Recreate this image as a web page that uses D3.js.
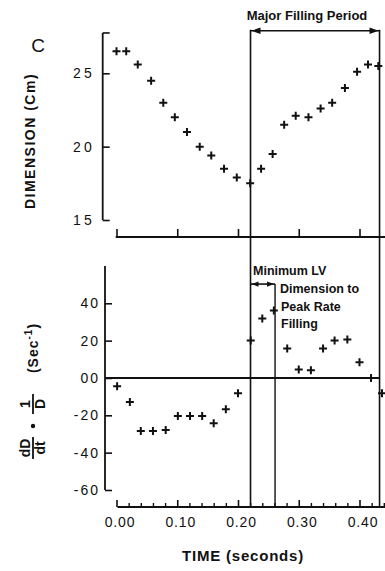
<!DOCTYPE html>
<html><head><meta charset="utf-8">
<script src="https://cdn.jsdelivr.net/npm/d3@7"></script>
<style>
body{margin:0;background:#fff;}
svg{display:block;font-family:"Liberation Sans",Arial,sans-serif;}
</style></head><body>
<svg id="c" width="385" height="571"></svg>
<script>
// ---- data ----
const topTime = [0.000,0.016,0.035,0.057,0.077,0.096,0.116,0.137,0.156,0.177,0.198,0.220,0.238,0.257,0.276,0.295,0.316,0.336,0.355,0.376,0.396,0.414,0.431];
const topDim  = [26.5,26.5,25.6,24.5,23.0,22.0,21.0,20.0,19.4,18.5,17.9,17.5,18.5,19.5,21.5,22.1,22.0,22.6,23.0,24.0,25.1,25.6,25.5];
const botTime = [0.001,0.022,0.040,0.060,0.081,0.101,0.121,0.141,0.160,0.180,0.200,0.221,0.240,0.259,0.281,0.300,0.320,0.340,0.359,0.380,0.400,0.419,0.437];
const botRate = [-4.4,-12.8,-28.4,-28.4,-27.9,-20.4,-20.4,-20.4,-24.2,-16.7,-8.2,20.1,31.8,36.1,15.8,4.6,4.1,15.8,20.1,20.6,8.4,0,-8.2];
const topYTicks = [15,20,25];
const topYLabels = ["15","20","25"];
const botYTicks = [-60,-40,-20,0,20,40];
const botYLabels = ["-60","-40","-20","00","20","40"];
const xMajorTicks = [0,0.1,0.2,0.3,0.4];
const xTickLabels = ["0.00","0.10","0.20","0.30","0.40"];
const xMinorTicks = [0.02,0.04,0.06,0.08,0.12,0.14,0.16,0.18,0.22,0.24,0.26,0.28,0.32,0.34,0.36,0.38,0.42,0.44];
const eventTimes = [0.2206, 0.261, 0.433]; // min dimension, peak filling rate, end of major filling
const arrowLevels = [27.9, 50.3];          // top-panel arrow (cm), bottom-panel arrow (sec^-1)

// ---- scales ----
const svg = d3.select("#c");
const x = d3.scaleLinear().domain([0, 0.4]).range([116.5, 359.5]);
const yTop = d3.scaleLinear().domain([15, 25]).range([220, 73.3]);
const yBot = d3.scaleLinear().domain([-60, 40]).range([490, 303.3]);

const topAxisY = 237, botAxisY = 507;
const topYAxisX = 102.7, botYAxisX = 105;

const ink = "#111";

// ---- top panel y axis ----
const gTY = svg.append("g").attr("transform", `translate(${topYAxisX},0)`)
  .call(d3.axisLeft(yTop).tickValues(topYTicks)
        .tickFormat((d,i)=>topYLabels[i]).tickSize(-7).tickSizeOuter(0).tickPadding(8));
gTY.select(".domain").remove();
gTY.selectAll(".tick line").attr("stroke", ink).attr("stroke-width", 1.6);
gTY.selectAll(".tick text").attr("fill", ink).style("font-size","14px").style("letter-spacing","3px");
svg.append("line").attr("x1",topYAxisX).attr("x2",topYAxisX)
  .attr("y1",yTop(27.75)).attr("y2",yTop(15)).attr("stroke",ink).attr("stroke-width",1.8);
svg.append("line").attr("x1",topYAxisX).attr("x2",topYAxisX+7)
  .attr("y1",yTop(27.75)).attr("y2",yTop(27.75)).attr("stroke",ink).attr("stroke-width",1.6);

// ---- top panel x axis (ticks only) ----
const gTX = svg.append("g").attr("transform", `translate(0,${topAxisY})`)
  .call(d3.axisBottom(x).tickValues(xMajorTicks).tickFormat("").tickSize(-8).tickSizeOuter(0));
gTX.select(".domain").remove();
gTX.selectAll(".tick line").attr("stroke", ink).attr("stroke-width", 1.6);
svg.append("line").attr("x1",x(0)-0.8).attr("x2",385).attr("y1",topAxisY).attr("y2",topAxisY)
  .attr("stroke",ink).attr("stroke-width",1.8);

// ---- bottom panel y axis ----
const gBY = svg.append("g").attr("transform", `translate(${botYAxisX},0)`)
  .call(d3.axisLeft(yBot).tickValues(botYTicks)
        .tickFormat((d,i)=>botYLabels[i]).tickSize(-7).tickSizeOuter(0).tickPadding(5));
gBY.select(".domain").remove();
gBY.selectAll(".tick line").attr("stroke", ink).attr("stroke-width", 1.6);
gBY.selectAll(".tick text").attr("fill", ink).style("font-size","14px").style("letter-spacing","2px");
svg.append("line").attr("x1",botYAxisX).attr("x2",botYAxisX)
  .attr("y1",yBot(60)).attr("y2",yBot(-60)).attr("stroke",ink).attr("stroke-width",1.8);
// zero line
svg.append("line").attr("x1",botYAxisX).attr("x2",x(0.433)).attr("y1",yBot(0)).attr("y2",yBot(0))
  .attr("stroke",ink).attr("stroke-width",2);

// ---- bottom panel x axis ----
const gBXm = svg.append("g").attr("transform", `translate(0,${botAxisY})`)
  .call(d3.axisBottom(x).tickValues(xMinorTicks).tickFormat("").tickSize(-4).tickSizeOuter(0));
gBXm.select(".domain").remove();
gBXm.selectAll(".tick line").attr("stroke", ink).attr("stroke-width", 1.4);
const gBX = svg.append("g").attr("transform", `translate(0,${botAxisY})`)
  .call(d3.axisBottom(x).tickValues(xMajorTicks).tickFormat((d,i)=>xTickLabels[i])
        .tickSize(-7).tickSizeOuter(0).tickPadding(10));
gBX.select(".domain").remove();
gBX.selectAll(".tick line").attr("stroke", ink).attr("stroke-width", 1.6);
gBX.selectAll(".tick text").attr("fill", ink).attr("dx", 3)
  .style("font-size","14px").style("letter-spacing","0.8px");
svg.append("line").attr("x1",x(0)+1).attr("x2",385).attr("y1",botAxisY).attr("y2",botAxisY)
  .attr("stroke",ink).attr("stroke-width",1.8);

// ---- event vertical lines ----
const yArrowTop = yTop(arrowLevels[0]);
const yArrowBot = yBot(arrowLevels[1]);
svg.append("line").attr("x1",x(eventTimes[0])).attr("x2",x(eventTimes[0]))
  .attr("y1",yArrowTop-1).attr("y2",botAxisY).attr("stroke",ink).attr("stroke-width",1.6);
svg.append("line").attr("x1",x(eventTimes[2])).attr("x2",x(eventTimes[2]))
  .attr("y1",yArrowTop-1).attr("y2",botAxisY).attr("stroke",ink).attr("stroke-width",1.6);
svg.append("line").attr("x1",x(eventTimes[1])).attr("x2",x(eventTimes[1]))
  .attr("y1",yArrowBot).attr("y2",botAxisY).attr("stroke",ink).attr("stroke-width",1.4);

// double-headed arrows
function dblArrow(x1, x2, y, head, half) {
  svg.append("line").attr("x1",x1).attr("x2",x2).attr("y1",y).attr("y2",y)
    .attr("stroke",ink).attr("stroke-width",1.6);
  svg.append("path").attr("d",`M${x1+1},${y}L${x1+1+head},${y-half}L${x1+1+head},${y+half}Z`).attr("fill",ink);
  svg.append("path").attr("d",`M${x2-1},${y}L${x2-1-head},${y-half}L${x2-1-head},${y+half}Z`).attr("fill",ink);
}
dblArrow(x(eventTimes[0]), x(eventTimes[2]), yArrowTop, 9, 3.2);
dblArrow(x(eventTimes[0]), x(eventTimes[1]), yArrowBot, 7, 2.6);

// ---- data markers ----
const plus = "M-4,0H4M0,-4V4";
svg.append("g").selectAll("path").data(topTime).join("path")
  .attr("d", plus).attr("transform",(d,i)=>`translate(${x(d)},${yTop(topDim[i])})`)
  .attr("stroke",ink).attr("stroke-width",2).attr("fill","none");
svg.append("g").selectAll("path").data(botTime).join("path")
  .attr("d", plus).attr("transform",(d,i)=>`translate(${x(d)},${yBot(botRate[i])})`)
  .attr("stroke",ink).attr("stroke-width",2).attr("fill","none");

// ---- text annotations ----
const bold = t => t.style("font-weight","bold").attr("fill",ink);
bold(svg.append("text").attr("x",307).attr("y",20).attr("text-anchor","middle")
  .style("font-size","13px").text("Major Filling Period"));
bold(svg.append("text").attr("x",253).attr("y",275).style("font-size","12.5px").text("Minimum LV"));
bold(svg.append("text").attr("x",280).attr("y",293).style("font-size","12.5px").text("Dimension to"));
bold(svg.append("text").attr("x",281).attr("y",311).style("font-size","12.5px").text("Peak Rate"));
bold(svg.append("text").attr("x",281).attr("y",328).style("font-size","12.5px").text("Filling"));

svg.append("text").attr("x",38).attr("y",52).attr("text-anchor","middle")
  .style("font-size","19px").attr("fill",ink).text("C");

bold(svg.append("text").attr("transform","translate(35,141) rotate(-90)").attr("text-anchor","middle")
  .style("font-size","14px").style("letter-spacing","1.5px").text("DIMENSION (Cm)"));

bold(svg.append("text").attr("x",243).attr("y",561).attr("text-anchor","middle")
  .style("font-size","15px").style("letter-spacing","0.8px").text("TIME (seconds)"));

// rotated derivative label
const gl = svg.append("g").attr("transform","translate(33,385) rotate(-90)");
function frac(cx, num, den, fs, w) {
  bold(gl.append("text").attr("x",cx).attr("y",-3).attr("text-anchor","middle").style("font-size",fs).text(num));
  gl.append("line").attr("x1",cx-w).attr("x2",cx+w).attr("y1",0).attr("y2",0).attr("stroke",ink).attr("stroke-width",1.8);
  bold(gl.append("text").attr("x",cx).attr("y",12).attr("text-anchor","middle").style("font-size",fs).text(den));
}
frac(-63, "dD", "dt", "14px", 11);
gl.append("circle").attr("cx",-41).attr("cy",0).attr("r",2.2).attr("fill",ink);
frac(-19, "1", "D", "14px", 10);
const sl = bold(gl.append("text").attr("x",37).attr("y",5).attr("text-anchor","middle")
  .style("font-size","14px").style("letter-spacing","1px"));
sl.append("tspan").text("(Sec");
sl.append("tspan").attr("dy",-6).style("font-size","10px").text("-1");
sl.append("tspan").attr("dy",6).text(")");
</script>
</body></html>
